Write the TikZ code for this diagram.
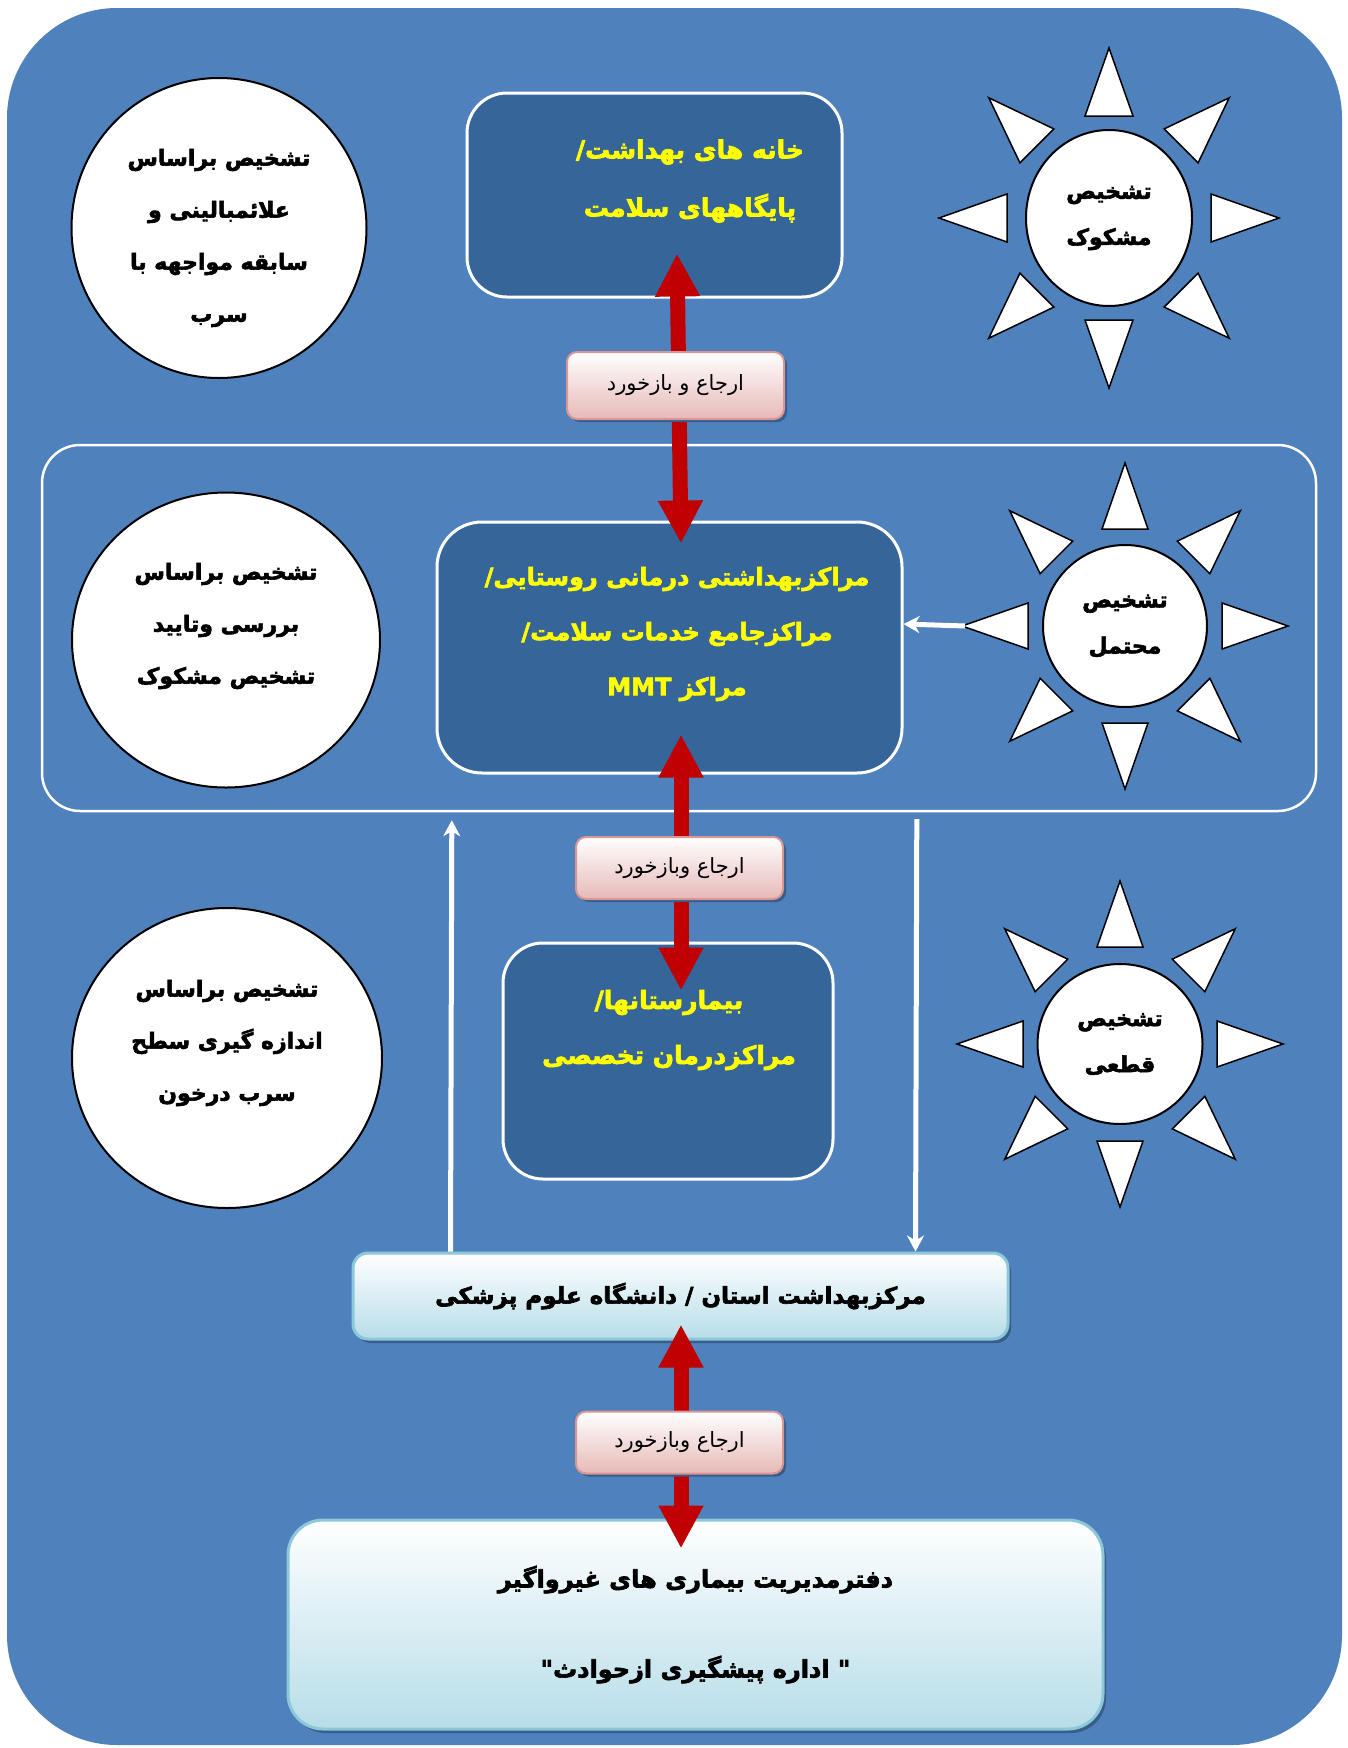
\documentclass[tikz,border=0pt]{standalone}
\usepackage{fontspec}
\usepackage{tikz}
\usetikzlibrary{shapes.geometric,arrows.meta,shadows,calc}
\newfontfamily\farsi[Script=Arabic, BoldFeatures={FakeBold=2.6}]{DejaVu Sans}
\TeXXeTstate=1

\definecolor{bgblue}{RGB}{79,129,189}
\definecolor{boxblue}{RGB}{54,101,153}
\definecolor{arrowred}{RGB}{192,0,0}
\definecolor{paleblue}{RGB}{183,221,232}
\definecolor{edgeblue}{RGB}{140,200,218}
\definecolor{palepink}{RGB}{230,185,184}
\definecolor{edgepink}{RGB}{217,150,148}
\definecolor{shadowblue}{RGB}{56,93,138}
\definecolor{titleyellow}{RGB}{255,255,0}

\tikzset{
  levelbox/.style={draw=white, line width=3pt, fill=boxblue, rounded corners=40pt, inner sep=0pt},
  leveltext/.style={text=titleyellow, align=center, inner sep=0pt},
  lightbox/.style={draw=edgeblue, line width=3pt, top color=white, bottom color=paleblue,
    align=center, inner sep=0pt,
    drop shadow={shadow xshift=3pt, shadow yshift=-4pt, fill=shadowblue, opacity=1}},
  referlabel/.style={draw=edgepink, line width=2pt, top color=white, bottom color=palepink,
    rounded corners=10pt, inner sep=0pt, minimum width=207pt, minimum height=62pt,
    font=\farsi\fontsize{21}{25}\selectfont,
    drop shadow={shadow xshift=3pt, shadow yshift=-3pt, fill=shadowblue, opacity=1}},
  basiscircle/.style={ellipse, draw=black, line width=2pt, fill=white, inner sep=0pt},
  basistext/.style={align=center, inner sep=0pt, font=\farsi\bfseries\fontsize{22}{52}\selectfont},
  suncore/.style={ellipse, draw=black, line width=2pt, fill=white, inner sep=0pt,
    align=center, font=\farsi\bfseries\fontsize{22}{46}\selectfont},
  sunray/.style={draw=black, line width=1.5pt, fill=white, line join=miter},
  redlink/.style={draw=arrowred, line width=15pt,
    {Triangle[width=42pt,length=43pt]}-{Triangle[width=42pt,length=43pt]}},
  feedlink/.style={draw=white, line width=5pt, -{Stealth[width=17pt,length=16pt,inset=5pt]}}
}

\begin{document}
\begin{tikzpicture}[x=1pt, y=-1pt]
\useasboundingbox (0,0) rectangle (1347,1748);
% Referral levels and the diagnosis steps beside them
\fill[bgblue, rounded corners=110pt] (7,8) rectangle (1342,1745);
\draw[white, line width=2.5pt, rounded corners=38pt] (42,445) rectangle (1316,811);
\node[inner sep=0pt, minimum width=1274pt, minimum height=366pt] (frame) at (679,628) {};

% level boxes
\node[levelbox, minimum width=375pt, minimum height=204pt] (health) at (654.5,195) {};
\node[leveltext, font=\farsi\bfseries\fontsize{25}{58}\selectfont] (health-text) at (690,181)
  {\beginR خانه های بهداشت/\endR\\\beginR پایگاههای سلامت\endR};

\node[levelbox, rounded corners=45pt, minimum width=465pt, minimum height=251pt] (rural) at (669.5,647.5) {};
\node[leveltext, font=\farsi\bfseries\fontsize{24}{55}\selectfont] (rural-text) at (677,634)
  {\beginR مراکزبهداشتی درمانی روستایی/\endR\\\beginR مراکزجامع خدمات سلامت/\endR\\\beginR مراکز \beginL MMT\endL\endR};

\node[levelbox, minimum width=330pt, minimum height=236pt] (hosp) at (668,1061) {};
\node[leveltext, font=\farsi\bfseries\fontsize{25}{55}\selectfont] (hosp-text) at (669,1030)
  {\beginR بیمارستانها/\endR\\\beginR مراکزدرمان تخصصی\endR};

\node[lightbox, rounded corners=15pt, minimum width=655pt, minimum height=86pt,
  font=\farsi\bfseries\fontsize{23}{28}\selectfont] (prov) at (680.5,1296)
  {\beginR مرکزبهداشت استان / دانشگاه علوم پزشکی\endR};

\node[lightbox, rounded corners=35pt, minimum width=815pt, minimum height=209pt,
  font=\farsi\bfseries\fontsize{24}{90}\selectfont] (office) at (695.5,1624.5)
  {\beginR دفترمدیریت بیماری های غیرواگیر\endR\\\beginR " اداره پیشگیری ازحوادث"\endR};

% red referral arrows
\draw[redlink] ([xshift=22.5pt,yshift=45pt]health.south) -- ([xshift=11.5pt,yshift=-23pt]rural.north);
\draw[redlink] ([xshift=11.5pt,yshift=40pt]rural.south) -- ([xshift=13pt,yshift=-49pt]hosp.north);
\draw[redlink] ([xshift=0.5pt,yshift=16pt]prov.south) -- ([xshift=-14.5pt,yshift=-30pt]office.north);

\node[referlabel, minimum width=217pt, minimum height=67pt] (refer-top) at (675.5,385.5) {\beginR ارجاع و بازخورد\endR};
\node[referlabel] (refer-mid) at (679.5,868) {\beginR ارجاع وبازخورد\endR};
\node[referlabel] (refer-low) at (679.5,1442.5) {\beginR ارجاع وبازخورد\endR};

% diagnosis basis
\node[basiscircle, minimum width=295pt, minimum height=300pt] (basis-a) at (219,228) {};
\node[basistext] (basis-a-text) at ([yshift=-10pt]basis-a.center)
  {\beginR تشخیص براساس\endR\\\beginR علائمبالینی و\endR\\\beginR سابقه مواجهه با\endR\\\beginR سرب\endR};
\node[basiscircle, minimum width=308pt, minimum height=295pt] (basis-b) at (226,640) {};
\node[basistext] (basis-b-text) at ([yshift=14pt]basis-b.center)
  {\beginR تشخیص براساس\endR\\\beginR بررسی وتایید\endR\\\beginR تشخیص مشکوک\endR};
\node[basiscircle, minimum width=310pt, minimum height=300pt] (basis-c) at (227,1058) {};
\node[basistext] (basis-c-text) at ([yshift=15pt]basis-c.center)
  {\beginR تشخیص براساس\endR\\\beginR اندازه گیری سطح\endR\\\beginR سرب درخون\endR};

% suns
\node[suncore, minimum width=166pt, minimum height=176pt] (suspect) at (1109,218)
  {\beginR تشخیص\endR\\\beginR مشکوک\endR};
\node[suncore, minimum width=164pt, minimum height=162pt] (likely) at (1125,626)
  {\beginR تشخیص\endR\\\beginR محتمل\endR};
\node[suncore, minimum width=165pt, minimum height=160pt] (certain) at (1120,1044)
  {\beginR تشخیص\endR\\\beginR قطعی\endR};
\foreach \sun/\tip/\base/\half in {suspect/170/102/24, likely/163/97/23, certain/163/97/23}{
  \foreach \a in {0,45,...,315}{
    \draw[sunray] ($(\sun.center)+(\a:\tip)$) -- ($(\sun.center)+(\a:\base)+(\a+90:\half)$)
      -- ($(\sun.center)+(\a:\base)+(\a-90:\half)$) -- cycle;
  }
}

% white feedback arrows
\draw[feedlink] ([xshift=99pt]prov.north west) -- ([xshift=410pt,yshift=-9pt]frame.south west);
\draw[feedlink] ([xshift=875pt,yshift=-8pt]frame.south west) -- ([xshift=564pt]prov.north west);
\draw[feedlink] ([xshift=-160pt]likely.center) -- ([yshift=23.5pt]rural.east);
\end{tikzpicture}
\end{document}
